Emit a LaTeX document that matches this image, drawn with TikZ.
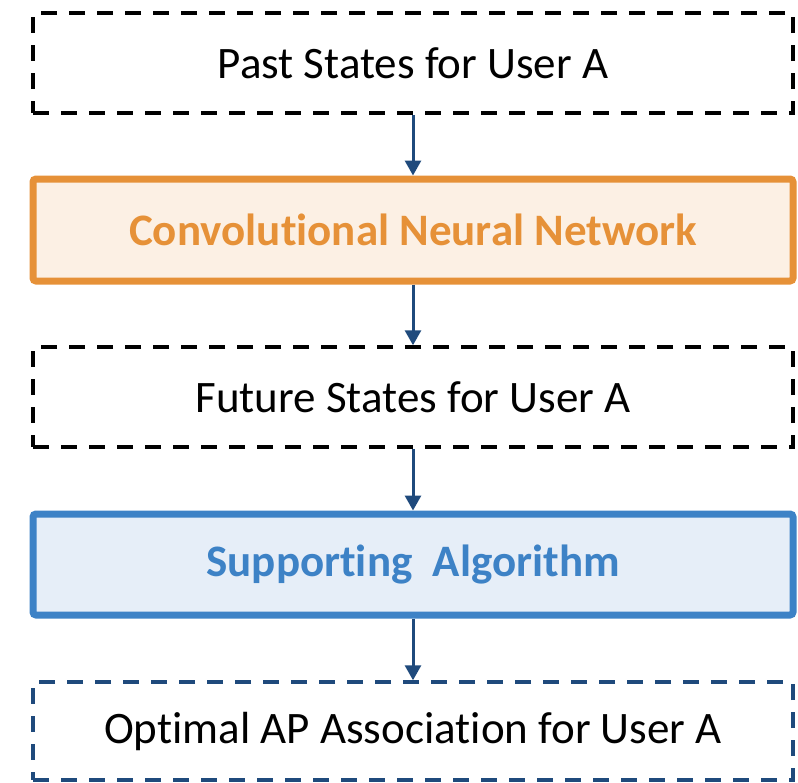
\documentclass[tikz,border=0pt]{standalone}
\usepackage{fontspec}
\setmainfont[Ligatures=NoCommon]{Carlito}
\usetikzlibrary{arrows.meta,positioning}
\definecolor{cnnOrange}{HTML}{E69138}
\definecolor{cnnFill}{HTML}{FCF0E4}
\definecolor{algBlue}{HTML}{3D82C6}
\definecolor{algFill}{HTML}{E6EEF8}
\definecolor{arrowBlue}{HTML}{1F4A7C}

\begin{document}
\begin{tikzpicture}[x=1pt, y=-1pt, font=\fontsize{45}{52}\selectfont,
	statebox/.style={draw=black, line width=3.5pt, dash pattern=on 16pt off 12pt, minimum width=760pt, minimum height=100pt, inner sep=0pt},
	netbox/.style={draw=cnnOrange, fill=cnnFill, line width=7pt, rounded corners=3pt, minimum width=760pt, minimum height=102pt, inner sep=0pt, text=cnnOrange, font=\fontsize{45}{52}\selectfont\bfseries},
	algbox/.style={draw=algBlue, fill=algFill, line width=7pt, rounded corners=3pt, minimum width=760pt, minimum height=101pt, inner sep=0pt, text=algBlue, font=\fontsize{45}{52}\selectfont\bfseries},
	flow/.style={draw=arrowBlue, line width=3pt, -{Triangle[width=16pt,length=15pt]}}]
	\useasboundingbox (0,0) rectangle (798,782);
	% boxes
	\node[statebox] (past) at (413,63) {Past States for User A};
	\node[netbox] (cnn) at (413,230) {Convolutional Neural Network};
	\node[statebox] (future) at (413,397) {Future States for User A};
	\node[algbox] (alg) at (413,564.5) {Supporting\ \ Algorithm};
	\node[statebox, draw=arrowBlue, minimum height=98pt] (optimal) at (413,731) {Optimal AP Association for User A};
	% arrows
	\draw[flow] (past) -- (cnn);
	\draw[flow] (cnn) -- (future);
	\draw[flow] (future) -- (alg);
	\draw[flow] (alg) -- (optimal);
\end{tikzpicture}
\end{document}
